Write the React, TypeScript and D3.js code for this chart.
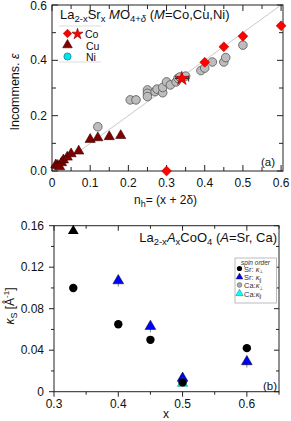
import React from 'react';
import * as d3 from 'd3';

// panel (a): incommensurability vs hole count
const coX = [0.3, 0.4, 0.45, 0.5, 0.6];
const coY = [0.0, 0.393, 0.449, 0.487, 0.525];
const coStar = { x: 0.34, y: 0.334, err: 0.018 };

const cuX = [0.01, 0.015, 0.02, 0.025, 0.03, 0.04, 0.05, 0.07, 0.1, 0.12, 0.15, 0.18];
const cuY = [0.022, 0.02, 0.015, 0.03, 0.04, 0.05, 0.062, 0.072, 0.114, 0.12, 0.124, 0.128];

const grayX = [0.12, 0.205, 0.22, 0.25, 0.25, 0.25, 0.27, 0.275, 0.29, 0.29, 0.3, 0.31, 0.325, 0.33, 0.335, 0.35, 0.39, 0.4, 0.42, 0.45, 0.455, 0.5];
const grayY = [0.16, 0.257, 0.257, 0.293, 0.281, 0.269, 0.287, 0.296, 0.283, 0.302, 0.322, 0.311, 0.322, 0.335, 0.34, 0.343, 0.363, 0.372, 0.394, 0.394, 0.41, 0.455];

const topXTicks = [0, 0.1, 0.2, 0.3, 0.4, 0.5, 0.6];
const topYTicks = [0, 0.2, 0.4, 0.6];

// panel (b): kappa_s vs x
const srPerpX = [0.33, 0.4, 0.45, 0.5, 0.6];
const srPerpY = [0.1, 0.065, 0.05, 0.009, 0.042];
const srParX = [0.4, 0.45, 0.5, 0.6];
const srParY = [0.107, 0.063, 0.013, 0.029];
const blackTriX = [0.33];
const blackTriY = [0.155];
const caPerp = { x: 0.5, y: 0.009 };
const caPar = { x: 0.5, y: 0.008 };

const botXTicks = [0.3, 0.4, 0.5, 0.6];
const botYTicks = [0, 0.04, 0.08, 0.12, 0.16];

const font = 'Arial, "Liberation Sans", sans-serif';

const xA = d3.scaleLinear().domain([0, 0.605]).range([52, 283]);
const yA = d3.scaleLinear().domain([0, 0.6]).range([171, 5]);
const xB = d3.scaleLinear().domain([0.3, 0.65]).range([54, 279]);
const yB = d3.scaleLinear().domain([0, 0.16]).range([391.7, 225.7]);

const tri = (s: number) => d3.symbol(d3.symbolTriangle, s)() as string;
const sq = (s: number) => d3.symbol(d3.symbolSquare, s)() as string;
const star = (s: number) => d3.symbol(d3.symbolStar, s)() as string;

const range = (a: number, b: number, step: number) =>
  d3.range(Math.round((b - a) / step) + 1).map((i) => +(a + i * step).toFixed(4));

export default function App() {
  const aMinorX = range(0, 0.6, 0.05);
  const aMinorY = range(0, 0.6, 0.1);
  const bMinorX = range(0.3, 0.65, 0.05);
  const bMinorY = range(0, 0.16, 0.02);

  return (
    <svg width={291} height={421} style={{ position: 'absolute', left: 0, top: 0 }} fontFamily={font}>
      <rect width={291} height={421} fill="#fff" />

      {/* ---------- panel (a) ---------- */}
      <line x1={xA(0)} y1={yA(0)} x2={xA(0.6)} y2={yA(0.6)} stroke="#bbb" strokeWidth={0.8} />
      <rect x={52} y={5} width={231} height={166} fill="none" stroke="#222" strokeWidth={1} />
      {aMinorX.map((t) => {
        const len = topXTicks.some((v) => Math.abs(v - t) < 1e-6) ? 6 : 4;
        return (
          <g key={'ax' + t}>
            <line x1={xA(t)} x2={xA(t)} y1={171} y2={171 - len} stroke="#222" />
            <line x1={xA(t)} x2={xA(t)} y1={5} y2={5 + len} stroke="#222" />
          </g>
        );
      })}
      {aMinorY.map((t) => {
        const len = topYTicks.some((v) => Math.abs(v - t) < 1e-6) ? 6 : 4;
        return (
          <g key={'ay' + t}>
            <line x1={52} x2={52 + len} y1={yA(t)} y2={yA(t)} stroke="#222" />
            <line x1={283} x2={283 - len} y1={yA(t)} y2={yA(t)} stroke="#222" />
          </g>
        );
      })}
      {topXTicks.map((t) => (
        <text key={'axl' + t} x={xA(t)} y={187} fontSize={12} textAnchor="middle" fill="#111">
          {t === 0 ? '0' : t.toFixed(1)}
        </text>
      ))}
      {topYTicks.map((t) => (
        <text key={'ayl' + t} x={47} y={Math.max(yA(t) + 4, 10)} fontSize={12} textAnchor="end" fill="#111">
          {t.toFixed(1)}
        </text>
      ))}
      <text x={134} y={204} fontSize={12} fill="#111">
        n<tspan fontSize={9} dy={3}>h</tspan>
        <tspan dy={-3}>= (x + 2δ)</tspan>
      </text>
      <text transform="translate(19,92) rotate(-90)" fontSize={12.5} textAnchor="middle" fill="#111">
        Incommens. <tspan fontStyle="italic">ε</tspan>
      </text>
      <text x={60} y={19} fontSize={13} fill="#111">
        La<tspan fontSize={9.5} dy={3}>2-x</tspan>
        <tspan dy={-3}>Sr</tspan>
        <tspan fontSize={9.5} dy={3}>x</tspan>
        <tspan dy={-3} fontStyle="italic"> M</tspan>
        <tspan>O</tspan>
        <tspan fontSize={9.5} dy={3}>4+</tspan>
        <tspan fontSize={9.5} fontStyle="italic">δ</tspan>
        <tspan dy={-3}>  (</tspan>
        <tspan fontStyle="italic">M</tspan>
        <tspan>=Co,Cu,Ni)</tspan>
      </text>
      <text x={261} y={166} fontSize={11.5} fill="#111">(a)</text>

      {/* legend (a) */}
      <line x1={59} x2={101} y1={26} y2={26} stroke="#ddd" />
      <line x1={59} x2={101} y1={62} y2={62} stroke="#ddd" />
      <path d={sq(36)} transform="translate(67.5,33.5) rotate(45)" fill="#ff0000" stroke="#b00" strokeWidth={0.6} />
      <path d={star(38)} transform="translate(77.5,34)" fill="#ff0000" stroke="#800" strokeWidth={0.6} />
      <text x={85} y={38} fontSize={10.5} fill="#111">Co</text>
      <path d={tri(40)} transform="translate(67.5,45)" fill="#800000" stroke="#400" strokeWidth={0.6} />
      <text x={86} y={49.5} fontSize={10.5} fill="#111">Cu</text>
      <circle cx={67.5} cy={56.5} r={3.6} fill="#00e5f0" stroke="#066" strokeWidth={0.6} />
      <text x={86} y={61} fontSize={10.5} fill="#111">Ni</text>

      {/* gray circles */}
      {grayX.map((x, i) => (
        <circle key={'g' + i} cx={xA(x)} cy={yA(grayY[i])} r={4.3} fill="#bdbdbd" stroke="#555" strokeWidth={0.8} />
      ))}
      {/* Cu triangles */}
      {cuX.map((x, i) => (
        <path key={'cu' + i} d={tri(45)} transform={`translate(${xA(x)},${yA(cuY[i])})`} fill="#800000" stroke="#3a0000" strokeWidth={0.6} />
      ))}
      {/* Co star with error bar */}
      <line x1={xA(coStar.x - coStar.err)} x2={xA(coStar.x + coStar.err)} y1={yA(coStar.y)} y2={yA(coStar.y)} stroke="#222" strokeWidth={1} />
      <line x1={xA(coStar.x + coStar.err)} x2={xA(coStar.x + coStar.err)} y1={yA(coStar.y) - 3} y2={yA(coStar.y) + 3} stroke="#222" strokeWidth={1} />
      <path d={star(60)} transform={`translate(${xA(coStar.x)},${yA(coStar.y)})`} fill="#ff0000" stroke="#800" strokeWidth={0.6} />
      {/* Co diamonds */}
      {coX.map((x, i) => (
        <path key={'co' + i} d={sq(48)} transform={`translate(${xA(x)},${yA(coY[i])}) rotate(45)`} fill="#ff0000" stroke="#b00" strokeWidth={0.6} />
      ))}

      {/* ---------- panel (b) ---------- */}
      <rect x={54} y={225.7} width={225} height={166} fill="none" stroke="#222" strokeWidth={1} />
      {bMinorX.map((t) => {
        const len = botXTicks.some((v) => Math.abs(v - t) < 1e-6) ? 5 : 3;
        return (
          <g key={'bx' + t}>
            <line x1={xB(t)} x2={xB(t)} y1={391.7} y2={391.7 + len} stroke="#222" />
            <line x1={xB(t)} x2={xB(t)} y1={225.7} y2={225.7 + len} stroke="#222" />
          </g>
        );
      })}
      {bMinorY.map((t) => {
        const len = botYTicks.some((v) => Math.abs(v - t) < 1e-6) ? 5 : 3;
        return (
          <g key={'by' + t}>
            <line x1={54} x2={54 - len} y1={yB(t)} y2={yB(t)} stroke="#222" />
            <line x1={279} x2={279 - len} y1={yB(t)} y2={yB(t)} stroke="#222" />
          </g>
        );
      })}
      {botXTicks.map((t) => (
        <text key={'bxl' + t} x={xB(t)} y={408} fontSize={12} textAnchor="middle" fill="#111">
          {t.toFixed(1)}
        </text>
      ))}
      {botYTicks.map((t) => (
        <text key={'byl' + t} x={44} y={yB(t) + 4} fontSize={12} textAnchor="end" fill="#111">
          {t === 0 ? '0' : t.toFixed(2)}
        </text>
      ))}
      <text x={166} y={418} fontSize={12} textAnchor="middle" fill="#111">x</text>
      <text transform="translate(14,306) rotate(-90)" fontSize={12} textAnchor="middle" fill="#111">
        <tspan fontStyle="italic">κ</tspan>
        <tspan fontSize={9} dy={3}>S</tspan>
        <tspan dy={-3}> [Å</tspan>
        <tspan fontSize={8} dy={-5}>-1</tspan>
        <tspan dy={5}>]</tspan>
      </text>
      <text x={277} y={242} fontSize={13} textAnchor="end" fill="#111">
        La<tspan fontSize={9.5} dy={3}>2-x</tspan>
        <tspan dy={-3} fontStyle="italic">A</tspan>
        <tspan fontSize={9.5} dy={3}>x</tspan>
        <tspan dy={-3}>CoO</tspan>
        <tspan fontSize={9.5} dy={3}>4</tspan>
        <tspan dy={-3}> (</tspan>
        <tspan fontStyle="italic">A</tspan>
        <tspan>=Sr, Ca)</tspan>
      </text>
      <text x={263} y={390} fontSize={11.5} fill="#111">(b)</text>

      {/* legend (b) */}
      <rect x={235} y={258} width={41.5} height={45} fill="#fff" stroke="#aaa" strokeWidth={0.8} />
      <text x={255.5} y={264.5} fontSize={6.5} fontStyle="italic" textAnchor="middle" fill="#333">spin order</text>
      <circle cx={239.5} cy={268.5} r={2.6} fill="#000" />
      <text x={244} y={271.5} fontSize={7.5} fill="#333">Sr: <tspan fontStyle="italic">κ</tspan><tspan fontSize={5} dy={1.5}>⊥</tspan></text>
      <path d={tri(20)} transform="translate(239.5,277)" fill="#0000ff" stroke="#000" strokeWidth={0.4} />
      <text x={244} y={280} fontSize={7.5} fill="#333">Sr: <tspan fontStyle="italic">κ</tspan><tspan fontSize={5} dy={1.5}>∥</tspan></text>
      <circle cx={239.5} cy={285} r={2.4} fill="#aaa" stroke="#555" strokeWidth={0.5} />
      <text x={244} y={288} fontSize={7.5} fill="#333">Ca:<tspan fontStyle="italic">κ</tspan><tspan fontSize={5} dy={1.5}>⊥</tspan></text>
      <path d={tri(24)} transform="translate(239.5,293.5)" fill="#00ffff" stroke="#066" strokeWidth={0.4} />
      <text x={244} y={296.5} fontSize={7.5} fill="#333">Ca:<tspan fontStyle="italic">κ</tspan><tspan fontSize={5} dy={1.5}>∥</tspan></text>

      {/* data (b) */}
      {srParX.map((x, i) => (
        <g key={'sp' + i}>
          <line x1={xB(x)} x2={xB(x)} y1={yB(srParY[i]) - 5} y2={yB(srParY[i]) + 6} stroke="#555" strokeWidth={0.7} />
          <path d={tri(50)} transform={`translate(${xB(x)},${yB(srParY[i])})`} fill="#0000ff" stroke="#000" strokeWidth={0.5} />
        </g>
      ))}
      {blackTriX.map((x, i) => (
        <path key={'bt' + i} d={tri(50)} transform={`translate(${xB(x)},${yB(blackTriY[i])})`} fill="#000" />
      ))}
      <path d={tri(45)} transform={`translate(${xB(caPar.x)},${yB(caPar.y)})`} fill="#00ffff" stroke="#066" strokeWidth={0.5} />
      <circle cx={xB(caPerp.x)} cy={yB(caPerp.y)} r={3.5} fill="#aaa" stroke="#444" strokeWidth={0.6} />
      {srPerpX.map((x, i) => (
        <circle key={'sc' + i} cx={xB(x)} cy={yB(srPerpY[i])} r={4.2} fill="#000" />
      ))}
    </svg>
  );
}
